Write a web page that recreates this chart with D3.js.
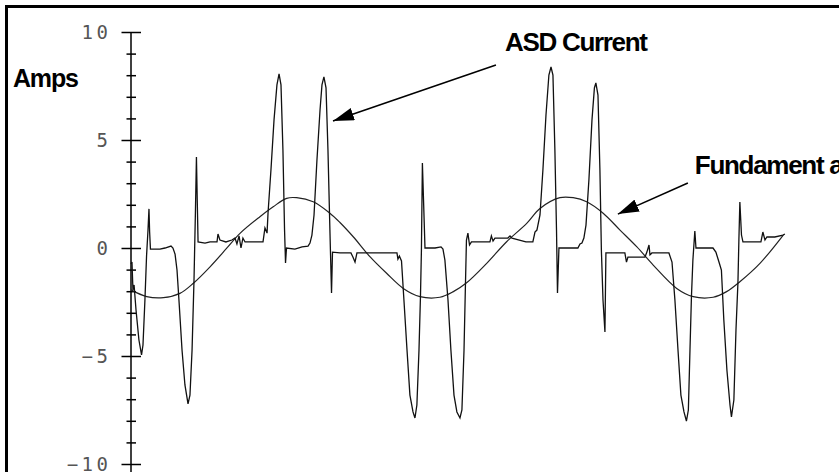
<!DOCTYPE html>
<html>
<head>
<meta charset="utf-8">
<script src="https://cdn.jsdelivr.net/npm/d3@7"></script>
<style>
  html, body { margin: 0; padding: 0; background: #fff; }
  svg { display: block; }
</style>
</head>
<body>
<svg id="chart" width="839" height="472"></svg>
<script>
// time in ms (60 Hz, two and a half cycles shown), current in amps
const asdTime = [
  0.00, 0.06, 0.12, 0.19, 0.31, 0.49, 0.65, 0.74, 0.86, 0.96, 1.05, 1.11, 1.15, 1.20, 1.79, 2.10, 2.47, 2.59, 2.72, 2.84,
  2.96, 3.15, 3.33, 3.52, 3.64, 3.77, 3.89, 3.98, 4.04, 4.09, 4.14, 4.57, 4.88, 5.31, 5.37, 5.49, 5.86, 6.23, 6.42, 6.54,
  6.67, 6.79, 6.91, 7.04, 8.15, 8.27, 8.40, 8.46, 8.64, 8.83, 9.01, 9.14, 9.26, 9.38, 9.48, 9.54, 9.60, 10.12, 10.56, 10.93,
  11.05, 11.17, 11.30, 11.48, 11.67, 11.79, 11.91, 12.04, 12.16, 12.28, 12.38, 12.44, 12.90, 13.58, 13.70, 13.83, 13.95, 16.42, 16.48, 16.57,
  16.70, 16.85, 17.04, 17.22, 17.41, 17.53, 17.65, 17.78, 17.87, 17.93, 17.99, 18.06, 18.15, 18.77, 19.14, 19.26, 19.38, 19.57, 19.75, 19.94,
  20.12, 20.31, 20.43, 20.56, 20.65, 20.71, 20.80, 20.90, 21.02, 22.16, 22.25, 22.35, 22.47, 23.27, 23.40, 23.52, 24.38, 24.81, 24.94, 25.06,
  25.25, 25.43, 25.62, 25.80, 25.93, 26.05, 26.17, 26.27, 26.33, 26.42, 27.59, 27.72, 27.84, 27.96, 28.09, 28.27, 28.46, 28.61, 28.70, 28.83,
  28.95, 29.04, 29.14, 29.26, 29.32, 30.49, 30.59, 30.68, 31.73, 31.85, 31.98, 32.04, 32.16, 33.21, 33.40, 33.58, 33.77, 33.95, 34.14, 34.29,
  34.41, 34.51, 34.60, 34.69, 34.81, 34.88, 35.93, 36.11, 36.30, 36.45, 36.60, 36.79, 36.98, 37.07, 37.22, 37.35, 37.47, 37.53, 37.59, 37.69,
  37.78, 38.89, 39.01, 39.14, 39.26, 39.75, 40.25, 40.37
];
const asdAmps = [
  -0.74, -0.65, -1.94, -1.71, -2.87, -4.26, -4.95, -4.49, -2.41, -0.37, 0.83, 1.81, 0.74, -0.05, -0.05, 0.00, 0.09, 0.00, -0.28, -1.02,
  -2.41, -4.72, -6.34, -7.22, -6.81, -4.72, -1.48, 1.76, 4.21, 2.22, 0.28, 0.23, 0.28, 0.28, 0.65, 0.37, 0.28, 0.37, 0.46, 0.19,
  0.56, 0.00, 0.46, 0.28, 0.28, 0.93, 0.69, 1.62, 3.61, 5.93, 7.55, 8.06, 7.55, 4.54, 0.83, -0.69, 0.00, -0.05, 0.05, 0.09,
  0.23, 0.60, 1.53, 4.07, 6.39, 7.55, 7.92, 7.41, 4.54, 0.83, -2.08, -0.19, -0.23, -0.23, -0.42, -0.65, -0.23, -0.23, -0.51, -0.37,
  -0.60, -2.41, -4.72, -6.81, -7.59, -7.87, -7.27, -4.72, -2.27, -0.09, 3.94, 2.22, 0.00, 0.00, 0.05, -0.05, -0.56, -2.41, -4.72, -6.81,
  -7.59, -7.87, -7.50, -4.72, -1.62, 0.37, 0.69, 0.14, 0.28, 0.28, 0.56, 0.32, 0.46, 0.46, 0.56, 0.46, 0.28, 0.28, 0.74, 0.83,
  1.53, 3.61, 6.16, 8.01, 8.38, 8.01, 4.54, 0.83, -2.08, 0.00, 0.00, 0.19, 0.23, 0.46, 1.06, 3.15, 5.93, 7.41, 7.64, 7.08,
  3.61, -0.09, -2.41, -3.89, -0.23, -0.23, -0.65, -0.42, -0.42, -0.19, 0.14, -0.32, -0.23, -0.23, -0.65, -2.41, -4.72, -6.81, -7.59, -8.01,
  -7.50, -4.72, -2.27, -0.56, 0.79, 0.00, 0.00, -0.19, -0.65, -1.02, -3.33, -5.65, -7.27, -7.82, -7.04, -3.80, -1.62, 0.37, 2.13, 0.60,
  0.28, 0.28, 0.74, 0.37, 0.51, 0.51, 0.60, 0.65
];

const fundTime = [
  0.00, 0.97, 2.00, 3.02, 3.85, 4.88, 5.91, 6.73, 7.96, 8.78, 9.61, 10.23, 11.25, 12.28, 12.90, 13.72, 14.75, 15.78, 16.81, 17.84,
  19.07, 19.90, 20.72, 21.96, 23.19, 24.43, 25.25, 26.48, 27.30, 28.13, 29.15, 30.19, 31.22, 32.24, 33.69, 34.71, 35.94, 36.77, 37.59, 38.83,
  40.27
];
const fundAmps = [
  -1.94, -2.25, -2.30, -2.10, -1.63, -0.87, -0.01, 0.68, 1.45, 1.91, 2.30, 2.33, 2.14, 1.61, 1.18, 0.52, -0.40, -1.17, -1.87, -2.25,
  -2.28, -2.02, -1.61, -0.71, 0.29, 1.14, 1.83, 2.33, 2.33, 2.14, 1.61, 0.83, 0.06, -0.79, -1.87, -2.25, -2.28, -2.02, -1.56, -0.71,
  0.60
];

const yTicks = d3.range(-10, 11, 1);

const svg = d3.select("#chart");
const W = 839, H = 472;

const x = d3.scaleLinear().domain([0, 40.5]).range([131, 787]);
const y = d3.scaleLinear().domain([-10, 10]).range([464, 32]);

// outer frame
svg.append("path")
  .attr("d", `M6.5,${H + 2} V6.5 H${W + 2}`)
  .attr("fill", "none")
  .attr("stroke", "#000")
  .attr("stroke-width", 3);

// y axis
const axis = svg.append("g")
  .attr("transform", `translate(${x(0)},0)`)
  .call(d3.axisLeft(y)
    .tickValues(yTicks)
    .tickSize(0)
    .tickPadding(19.5)
    .tickFormat(d => d % 5 === 0 ? d3.format("")(d) : ""));

axis.select(".domain").remove();
axis.append("line")
  .attr("y1", y(10))
  .attr("y2", H)
  .attr("stroke", "#000")
  .attr("stroke-width", 1.5);

axis.selectAll(".tick line")
  .attr("x1", d => d % 5 === 0 ? -9.5 : -4.5)
  .attr("x2", d => d % 5 === 0 ? 10 : 5)
  .attr("stroke", "#000")
  .attr("stroke-width", 1.5);

axis.selectAll(".tick text")
  .attr("fill", "#555")
  .attr("dy", "0.35em")
  .style("font-family", "'DejaVu Sans Mono', monospace")
  .style("font-size", "19px")
  .style("letter-spacing", "3.5px");

// lines
svg.append("path")
  .datum(d3.zip(fundTime, fundAmps))
  .attr("fill", "none")
  .attr("stroke", "#222")
  .attr("stroke-width", 1.2)
  .attr("d", d3.line().x(d => x(d[0])).y(d => y(d[1])).curve(d3.curveCatmullRom));

svg.append("path")
  .datum(d3.zip(asdTime, asdAmps))
  .attr("fill", "none")
  .attr("stroke", "#111")
  .attr("stroke-width", 1.3)
  .attr("d", d3.line().x(d => x(d[0])).y(d => y(d[1])));

// annotations
const labelFont = "'Liberation Sans', Arial, sans-serif";

svg.append("text")
  .attr("x", 13)
  .attr("y", 87)
  .style("font-family", labelFont)
  .style("font-weight", "bold")
  .style("font-size", "25px")
  .style("letter-spacing", "-1.2px")
  .text("Amps");

const notes = [
  { text: "ASD Current", tx: 23.09, tv: 9.10, from: [22.53, 8.47], to: [12.47, 5.88] },
  { text: "Fundament al", tx: 34.81, tv: 3.43, from: [34.38, 3.01], to: [30.06, 1.57] }
];

svg.append("defs").append("marker")
  .attr("id", "head")
  .attr("viewBox", "0 0 21 13")
  .attr("refX", 21)
  .attr("refY", 6.5)
  .attr("markerWidth", 21)
  .attr("markerHeight", 13)
  .attr("markerUnits", "userSpaceOnUse")
  .attr("orient", "auto")
  .append("path")
  .attr("d", "M0,0 L21,6.5 L0,13 Z")
  .attr("fill", "#000");

notes.forEach(n => {
  svg.append("line")
    .attr("x1", x(n.from[0]))
    .attr("y1", y(n.from[1]))
    .attr("x2", x(n.to[0]))
    .attr("y2", y(n.to[1]))
    .attr("stroke", "#000")
    .attr("stroke-width", 1.5)
    .attr("marker-end", "url(#head)");

  svg.append("text")
    .attr("x", x(n.tx))
    .attr("y", y(n.tv))
    .style("font-family", labelFont)
    .style("font-weight", "bold")
    .style("font-size", "26px")
    .style("letter-spacing", "-1.3px")
    .text(n.text);
});
</script>
</body>
</html>
